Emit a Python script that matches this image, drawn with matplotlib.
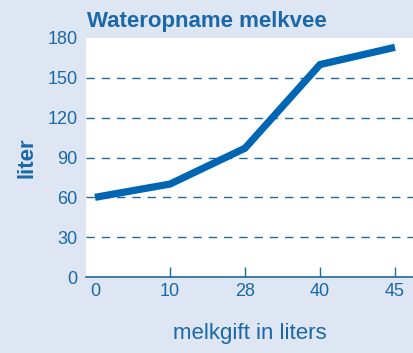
import matplotlib
matplotlib.use("Agg")
import matplotlib.pyplot as plt
from matplotlib import font_manager

categories = ["0", "10", "28", "40", "45"]
values = [60, 70, 97, 160, 173]
yticks = [0, 30, 60, 90, 120, 150, 180]

names = {f.name for f in font_manager.fontManager.ttflist}
fam = "Liberation Sans Narrow" if "Liberation Sans Narrow" in names else "Liberation Sans"

bg = "#dfe6f3"
txt = "#1a68a8"
line_c = "#0066b3"
grid_c = "#1f6a96"

fig = plt.figure(figsize=(4.13, 3.53), dpi=100, facecolor=bg)
ax = fig.add_axes([86/413, 76/353, 1 - 86/413, (277-38)/353])
ax.set_facecolor("white")

x = list(range(len(categories)))
ax.plot(x, values, color=line_c, lw=5.2, solid_capstyle="butt", solid_joinstyle="miter", zorder=3)

ax.set_xlim(-0.12, 4.24)
ax.set_ylim(0, 180)
ax.set_yticks(yticks)
ax.set_yticklabels([str(v) for v in yticks], fontfamily=fam, fontsize=13, color=txt)
ax.set_xticks(x)
ax.set_xticklabels(categories, fontfamily=fam, fontsize=13, color=txt)

for y in yticks[1:-1]:
    ax.axhline(y, color=grid_c, lw=1, dashes=(6, 5), zorder=1)

for s in ["top", "right", "left"]:
    ax.spines[s].set_visible(False)
ax.spines["bottom"].set_color(grid_c)
ax.spines["bottom"].set_linewidth(1.2)

ax.tick_params(axis="y", length=0, pad=6)
ax.tick_params(axis="x", direction="in", length=7, color=grid_c, width=1, pad=4)
ax.xaxis.get_major_ticks()[0].tick1line.set_visible(False)

ax.set_xlabel("melkgift in liters", fontfamily=fam, fontsize=16, color=txt, labelpad=17)
ax.set_ylabel("liter", fontfamily=fam, fontsize=16, fontweight="bold", color=txt, labelpad=7)

fig.text(87/413, 1 - 21/353, "Wateropname melkvee", fontfamily=fam, fontsize=16,
         fontweight="bold", color=txt, ha="left", va="center")

fig.savefig("out.png", dpi=100, facecolor=bg)
